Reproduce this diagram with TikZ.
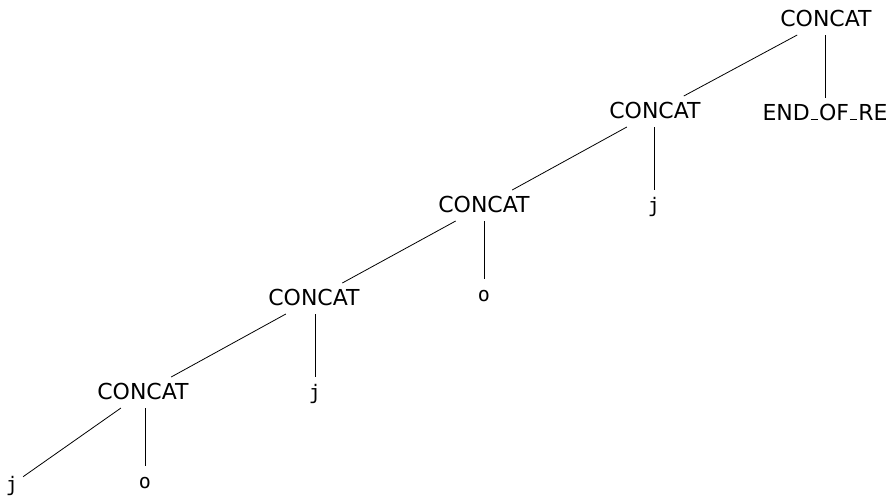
\documentclass[tikz,border=0pt]{standalone}
\usepackage{fontspec}
\setmainfont{DejaVu Sans}
\newfontfamily\leafmono{DejaVu Sans Mono}
\newcommand{\myus}{\kern0.04em\vrule height 1.2pt depth 0pt width 0.34em\kern0.04em}
\begin{document}
\begin{tikzpicture}[x=1pt,y=-1pt,
  every node/.style={anchor=base, inner sep=5pt, outer sep=0pt, text height=17pt, text depth=4pt},
  op/.style={font=\fontsize{22}{24}\selectfont},
  leaf/.style={font=\leafmono\fontsize{20}{22}\selectfont},
  edge/.style={draw=black, line width=0.8pt}]
\useasboundingbox (0,0) rectangle (889,496);
\node[op] (c1) at (826,26) {CONCAT};
\node[op] (c2) at (655,118) {CONCAT};
\node[op] (e) at (825,120) {END\myus OF\myus RE};
\node[op] (c3) at (484,212) {CONCAT};
\node[leaf] (j1) at (654,212) {j};
\node[op] (c4) at (314,305) {CONCAT};
\node[leaf] (o1) at (484,301) {o};
\node[op] (c5) at (143,399) {CONCAT};
\node[leaf] (j2) at (315,399) {j};
\node[leaf] (j3) at (12,491) {j};
\node[leaf] (o2) at (145,488) {o};
\draw[edge] (c1) -- (c2);
\draw[edge] (c1.south -| e) -- (e);
\draw[edge] (c2) -- (c3);
\draw[edge] (c2.south -| j1) -- (j1);
\draw[edge] (c3) -- (c4);
\draw[edge] (c3.south -| o1) -- (o1);
\draw[edge] (c4) -- (c5);
\draw[edge] (c4.south -| j2) -- (j2);
\draw[edge] (c5) -- (j3);
\draw[edge] (c5.south -| o2) -- (o2);
\end{tikzpicture}
\end{document}
